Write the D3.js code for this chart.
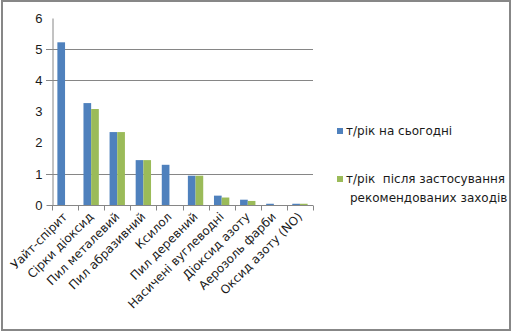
<!DOCTYPE html>
<html>
<head>
<meta charset="utf-8">
<script src="https://cdn.jsdelivr.net/npm/d3@7"></script>
<style>
  html, body { margin: 0; padding: 0; background: #fff; }
  svg { display: block; font-family: "DejaVu Sans", Verdana, sans-serif; }
</style>
</head>
<body>
<svg id="chart" width="512" height="336"></svg>
<script>
// Emission sources
const categories = [
  "Уайт-спірит", "Сірки діоксид", "Пил металевий", "Пил абразивний", "Ксилол",
  "Пил деревний", "Насичені вуглеводні", "Діоксид азоту", "Аерозоль фарби", "Оксид азоту (NO)"
];
// Tonnes per year, current state
const currentValues = [5.22, 3.27, 2.34, 1.44, 1.29, 0.94, 0.30, 0.17, 0.04, 0.04];
// Tonnes per year after the recommended measures
const afterValues = [0, 3.08, 2.34, 1.44, 0, 0.94, 0.24, 0.13, 0, 0.04];
const seriesNames = ["т/рік на сьогодні", "т/рік  після застосування рекомендованих заходів"];
const yTicks = [0, 1, 2, 3, 4, 5, 6];
const gridValues = [1, 4, 5];

const colors = ["#4F81BD", "#9BBB59"];
const gridColor = "#868686";
const textColor = "#1a1a1a";

const svg = d3.select("#chart");

// Outer frame
svg.append("rect")
  .attr("x", 2).attr("y", 1).attr("width", 508).attr("height", 329)
  .attr("fill", "#fff").attr("stroke", "#878787").attr("stroke-width", 2);

const plot = { left: 52, right: 313, top: 18, bottom: 205 };

const x0 = d3.scaleBand().domain(categories).range([plot.left, plot.right]).padding(0);
const x1 = d3.scaleBand().domain([0, 1]).range([0, x0.bandwidth()])
  .paddingInner(0).paddingOuter(0.7);
const y = d3.scaleLinear().domain([0, 6]).range([plot.bottom, plot.top]);

// Horizontal gridlines
svg.append("g").selectAll("line").data(gridValues).join("line")
  .attr("x1", plot.left - 6).attr("x2", plot.right)
  .attr("y1", d => Math.round(y(d)) + 0.5).attr("y2", d => Math.round(y(d)) + 0.5)
  .attr("stroke", gridColor).attr("stroke-width", 1);

// Bars
const rows = categories.map((c, i) => ({ c, v: [currentValues[i], afterValues[i]] }));
const groups = svg.append("g").selectAll("g").data(rows).join("g")
  .attr("transform", d => `translate(${x0(d.c)},0)`);
groups.selectAll("rect").data(d => d.v.map((v, s) => ({ v, s }))).join("rect")
  .attr("x", d => x1(d.s))
  .attr("width", x1.bandwidth())
  .attr("y", d => y(d.v))
  .attr("height", d => y(0) - y(d.v))
  .attr("fill", d => colors[d.s]);

// Y axis
const yAxis = svg.append("g")
  .attr("transform", `translate(${plot.left + 0.5},0)`)
  .call(d3.axisLeft(y).tickValues(yTicks).tickSize(0).tickPadding(10).tickFormat(d3.format("d")));
yAxis.select(".domain").attr("stroke", gridColor);
yAxis.selectAll("text").attr("font-size", 13).attr("fill", textColor)
  .attr("font-family", "Liberation Sans, Arial, sans-serif");
yAxis.selectAll(".tick").filter(d => d === 0)
  .append("line").attr("x1", -6).attr("x2", 0).attr("stroke", gridColor);

// X axis
const xAxis = svg.append("g")
  .attr("transform", `translate(0,${plot.bottom + 0.5})`);
xAxis.append("line").attr("x1", plot.left).attr("x2", plot.right)
  .attr("stroke", gridColor);
const boundaries = categories.map(c => x0(c)).concat([plot.right]);
xAxis.selectAll("line.tk").data(boundaries).join("line").attr("class", "tk")
  .attr("x1", d => Math.round(d) + 0.5).attr("x2", d => Math.round(d) + 0.5)
  .attr("y1", 0).attr("y2", 5).attr("stroke", gridColor);
xAxis.selectAll("text").data(categories).join("text")
  .attr("transform", d => `translate(${x0(d) + x0.bandwidth() / 2 + 3},12) rotate(-45)`)
  .attr("text-anchor", "end")
  .attr("font-size", 12)
  .attr("fill", textColor)
  .text(d => d);

// Legend
const legend = svg.append("g");
const legendRows = [
  { lines: ["т/рік на сьогодні"], y: 131 },
  { lines: ["т/рік  після застосування", "рекомендованих заходів"], y: 179 }
];
legendRows.forEach((r, i) => {
  legend.append("rect")
    .attr("x", 337).attr("y", r.y - 3).attr("width", 6).attr("height", 6)
    .attr("fill", colors[i]);
  const t = legend.append("text")
    .attr("x", 346).attr("y", r.y + 4)
    .attr("font-size", 12).attr("fill", textColor)
    .attr("xml:space", "preserve");
  r.lines.forEach((ln, k) => {
    t.append("tspan").attr("x", k === 0 ? 346 : 350).attr("dy", k === 0 ? 0 : 19).text(ln);
  });
});
</script>
</body>
</html>
